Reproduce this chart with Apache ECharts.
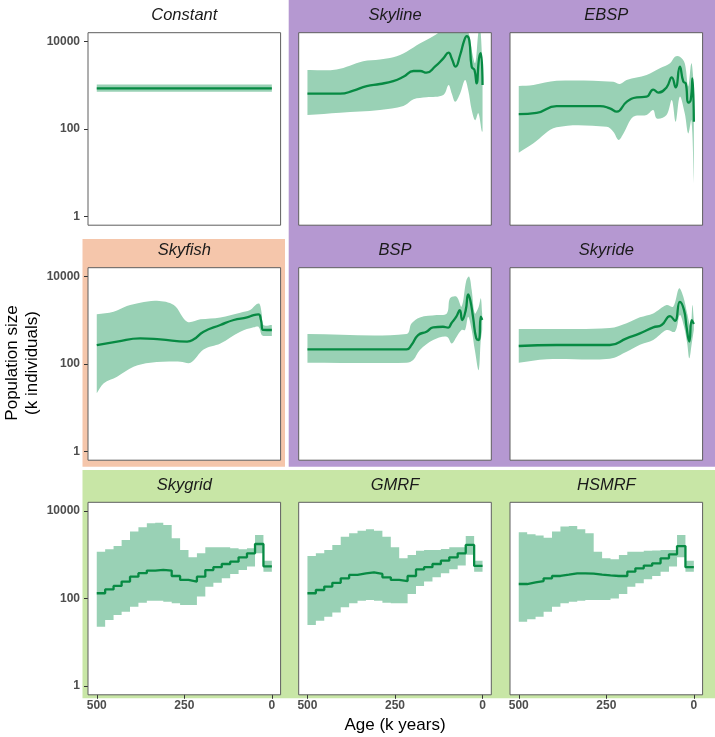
<!DOCTYPE html>
<html>
<head>
<meta charset="utf-8">
<script src="https://cdn.jsdelivr.net/npm/echarts@6.0.0/dist/echarts.min.js"></script>
<style>
html, body { margin: 0; padding: 0; background: #fff; }
#chart { width: 715px; height: 737px; }
</style>
</head>
<body>
<div id="chart"></div>
<script>
// population size (k individuals) against age (k years)
var constMed = [[500, 850], [0, 850]];
var constUp = [[500, 1040], [0, 1040]];
var constLow = [[500, 710], [0, 710]];

var skylineMed = [[500, 640], [407, 640], [369, 750], [331, 955], [293, 1065], [255, 1245], [226, 1560], [197, 2110], [178, 2110], [160, 1930], [136, 2650], [112, 4100], [97, 5530], [88, 4100], [77, 2650], [64, 4900], [52, 10700], [45, 13300], [38, 10700], [31, 2650], [23, 2220], [17, 1100], [10, 4100], [5, 5370], [0, 1010]];
var skylineUp = [[500, 2220], [417, 2290], [341, 3550], [293, 3890], [255, 4330], [217, 5840], [178, 9040], [140, 13300], [126, 15850], [112, 20000], [64, 22000], [45, 18000], [38, 14000], [31, 6300], [21, 3200], [12, 16000], [7, 22000], [0, 2650]];
var skylineLow = [[500, 208], [407, 236], [293, 271], [226, 334], [197, 475], [160, 527], [112, 596], [97, 1010], [88, 650], [78, 420], [64, 650], [50, 1310], [41, 776], [31, 271], [21, 158], [12, 229], [2, 87], [0, 87]];

var ebspMed = [[500, 219], [449, 234], [392, 334], [268, 334], [240, 295], [220, 248], [192, 417], [163, 525], [135, 546], [116, 795], [101, 676], [78, 891], [63, 1510], [52, 891], [40, 2650], [30, 1200], [23, 1100], [16, 398], [9, 457], [4, 1430], [0, 146]];
var ebspUp = [[500, 955], [458, 1009], [392, 1259], [230, 1200], [211, 1064], [192, 1310], [135, 1700], [97, 2427], [68, 3160], [54, 4470], [40, 4470], [26, 3160], [16, 933], [7, 3160], [0, 1100]];
var ebspLow = [[500, 28.6], [458, 47], [392, 109], [249, 112], [230, 86], [215, 56], [201, 79], [173, 190], [135, 209], [116, 271], [106, 174], [78, 209], [63, 457], [52, 146], [40, 546], [26, 229], [16, 79], [7, 158], [0, 5.7]];

var skyfishMed = [[500, 270], [442, 324], [376, 385], [319, 365], [242, 324], [223, 365], [195, 546], [147, 776], [109, 1010], [71, 1160], [52, 1310], [38, 1360], [31, 1010], [25, 600], [14, 597], [0, 597]];
var skyfishUp = [[500, 1360], [452, 1560], [414, 2110], [376, 2510], [328, 2790], [280, 2220], [242, 925], [204, 1047], [147, 1160], [90, 1480], [62, 1700], [43, 2340], [35, 2340], [29, 1430], [24, 776], [0, 776]];
var skyfishLow = [[500, 21.3], [480, 36], [442, 51], [395, 86], [347, 107], [261, 113], [232, 107], [195, 215], [147, 295], [90, 546], [52, 686], [38, 708], [29, 457], [24, 437], [0, 437]];

var bspMed = [[500, 215], [217, 215], [203, 271], [184, 457], [160, 546], [141, 686], [113, 708], [98, 676], [89, 851], [75, 1200], [65, 1700], [58, 1010], [48, 1700], [41, 3890], [35, 2850], [27, 1160], [18, 385], [11, 352], [5, 1200], [1, 1010]];
var bspUp = [[500, 485], [217, 485], [203, 841], [179, 1160], [131, 1310], [102, 1430], [93, 3160], [74, 3440], [60, 2040], [46, 8260], [38, 9840], [31, 4900], [22, 1430], [11, 2040], [5, 3160], [1, 1430]];
var bspLow = [[500, 107], [217, 107], [198, 123], [179, 208], [141, 352], [102, 420], [88, 295], [74, 420], [60, 596], [50, 596], [41, 1200], [31, 596], [22, 208], [11, 72], [5, 352], [1, 596]];

var skyrideMed = [[500, 257], [392, 271], [240, 271], [192, 385], [154, 501], [116, 686], [92, 776], [68, 1245], [54, 966], [40, 2630], [28, 1700], [21, 708], [13, 324], [6, 1009], [0, 818]];
var skyrideUp = [[500, 630], [420, 630], [240, 661], [192, 851], [154, 1161], [116, 1430], [78, 2223], [59, 2040], [42, 5350], [30, 3440], [19, 1430], [9, 708], [4, 2223], [0, 1000]];
var skyrideLow = [[500, 107], [420, 128], [240, 132], [192, 190], [154, 275], [116, 352], [78, 596], [54, 546], [40, 1312], [28, 708], [19, 295], [13, 135], [6, 295], [0, 596]];

// piecewise-constant estimates: interval boundaries and one value per interval
var gridAges = [500, 476, 452, 429, 405, 381, 357, 333, 310, 286, 262, 238, 214, 190, 167, 143, 119, 95, 71, 48, 24, 0];

var skygridMed = [132, 162, 194, 244, 316, 380, 437, 450, 437, 328, 266, 244, 316, 447, 520, 617, 698, 877, 1081, 1766, 546];
var skygridUp = [1175, 1334, 1585, 2188, 3388, 4266, 5250, 5430, 4786, 2399, 1288, 877, 1081, 1479, 1479, 1479, 1413, 1334, 1413, 2840, 735];
var skygridLow = [22.8, 32.4, 42, 50, 65, 80.5, 89, 89, 85, 78, 71.6, 71.6, 111, 186, 231, 290, 363, 450, 537, 1081, 412];

var gmrfMed = [132, 157, 188, 229, 290, 347, 378, 398, 365, 306, 266, 251, 328, 464, 520, 617, 735, 877, 1081, 1679, 556];
var gmrfUp = [940, 1081, 1288, 1679, 2600, 3090, 3550, 3828, 3550, 2600, 1479, 832, 991, 1245, 1288, 1288, 1359, 1479, 1479, 2692, 735];
var gmrfLow = [24.9, 31, 38.6, 48, 63, 78, 89, 93, 89, 80.5, 78, 78, 127, 194, 244, 306, 378, 468, 568, 1000, 412];

var hsmrfMed = [215, 235, 251, 290, 328, 352, 378, 378, 372, 352, 339, 328, 328, 412, 490, 568, 640, 832, 1023, 1585, 520];
var hsmrfUp = [3265, 2950, 2754, 2466, 3388, 4406, 4571, 3828, 3090, 1175, 832, 789, 991, 1175, 1175, 1230, 1259, 1288, 1288, 2840, 735];
var hsmrfLow = [29.5, 33.5, 38.6, 50, 65, 78, 85, 89, 93, 93, 93, 100, 127, 186, 224, 275, 328, 412, 537, 877, 412];

var ageTicks = { min: 0, max: 500, interval: 250 };
var sizeTicks = { min: 1, max: 10000 };

function stepPairs(vals) {
    var out = vals.map(function (v, i) { return [gridAges[i], v]; });
    out.push([gridAges[gridAges.length - 1], vals[vals.length - 1]]);
    return out;
}

var panels = [
    { title: 'Constant', row: 0, col: 0, med: constMed, up: constUp, low: constLow },
    { title: 'Skyline', row: 0, col: 1, med: skylineMed, up: skylineUp, low: skylineLow },
    { title: 'EBSP', row: 0, col: 2, med: ebspMed, up: ebspUp, low: ebspLow },
    { title: 'Skyfish', row: 1, col: 0, med: skyfishMed, up: skyfishUp, low: skyfishLow },
    { title: 'BSP', row: 1, col: 1, med: bspMed, up: bspUp, low: bspLow },
    { title: 'Skyride', row: 1, col: 2, med: skyrideMed, up: skyrideUp, low: skyrideLow },
    { title: 'Skygrid', row: 2, col: 0, step: true, med: stepPairs(skygridMed), up: stepPairs(skygridUp), low: stepPairs(skygridLow) },
    { title: 'GMRF', row: 2, col: 1, step: true, med: stepPairs(gmrfMed), up: stepPairs(gmrfUp), low: stepPairs(gmrfLow) },
    { title: 'HSMRF', row: 2, col: 2, step: true, med: stepPairs(hsmrfMed), up: stepPairs(hsmrfUp), low: stepPairs(hsmrfLow) }
];

var FONT = '"Liberation Sans", Arial, Helvetica, sans-serif';
var colLeft = [88, 298.7, 510], rowTop = [32.7, 267.7, 502.3];
var PW = 192.6, PH = 192.5;
var padX = PW * 25 / 550, padY = PH * 0.2 / 4.4;   // ggplot style 5% expansion

// credible band as one polygon: upper edge forward, lower edge back
function bandSeries(k, up, low, step) {
    return {
        type: 'custom', xAxisIndex: 2 * k, yAxisIndex: 2 * k, silent: true, animation: false,
        data: [[250, 100]],
        renderItem: function (params, api) {
            function edge(pts) {
                var out = [];
                if (step) {
                    for (var i = 0; i < pts.length - 1; i++) {
                        out.push(api.coord([pts[i][0], pts[i][1]]));
                        out.push(api.coord([pts[i + 1][0], pts[i][1]]));
                    }
                } else {
                    out = pts.map(function (p) { return api.coord(p); });
                    // doubled end points keep the band ends straight when smoothed
                    out.unshift(out[0].slice());
                    out.push(out[out.length - 1].slice());
                }
                return out;
            }
            var pts = edge(up).concat(edge(low).reverse());
            var cs = params.coordSys;
            return {
                type: 'polygon',
                shape: { points: pts, smooth: step ? 0 : 0.35 },
                style: { fill: '#99D1B5', stroke: null },
                clipPath: { type: 'rect', shape: { x: cs.x, y: cs.y, width: cs.width, height: cs.height } }
            };
        }
    };
}

var grids = [], xAxes = [], yAxes = [], series = [];
var graphics = [
    // shaded groups behind the panels
    { type: 'rect', z: -10, shape: { x: 288.7, y: 0, width: 426.3, height: 466.7 }, style: { fill: '#B598D1' } },
    { type: 'rect', z: -10, shape: { x: 82.5, y: 239, width: 202.5, height: 227.7 }, style: { fill: '#F5C6AB' } },
    { type: 'rect', z: -10, shape: { x: 82.5, y: 470, width: 632.5, height: 228.3 }, style: { fill: '#C8E6A6' } }
];

panels.forEach(function (p, k) {
    var L = colLeft[p.col], T = rowTop[p.row];
    var showX = p.row === 2, showY = p.col === 0;

    // data grid = panel, axes hidden, range expanded
    grids.push({ left: L, top: T, width: PW, height: PH, show: true, backgroundColor: '#fff', borderWidth: 0 });
    // tick grid = unexpanded data range, axes pushed out to the panel edge
    grids.push({ left: L + padX, top: T + padY, width: PW - 2 * padX, height: PH - 2 * padY });

    xAxes.push({ gridIndex: 2 * k, type: 'value', min: -25, max: 525, inverse: true, show: false });
    yAxes.push({ gridIndex: 2 * k, type: 'log', min: Math.pow(10, -0.2), max: Math.pow(10, 4.2), show: false });

    xAxes.push({
        gridIndex: 2 * k + 1, type: 'value', min: ageTicks.min, max: ageTicks.max, interval: ageTicks.interval,
        inverse: true, position: 'bottom', offset: padY,
        axisLine: { show: false, onZero: false }, splitLine: { show: false },
        axisTick: { show: showX, length: 4, lineStyle: { color: '#333', width: 1 } },
        axisLabel: { show: showX, margin: 5, color: '#4D4D4D', fontWeight: 'bold', fontSize: 12, fontFamily: FONT }
    });
    yAxes.push({
        gridIndex: 2 * k + 1, type: 'log', logBase: 100, min: sizeTicks.min, max: sizeTicks.max,
        position: 'left', offset: padX,
        axisLine: { show: false, onZero: false }, splitLine: { show: false }, minorSplitLine: { show: false },
        axisTick: { show: showY, length: 4, lineStyle: { color: '#333', width: 1 } },
        axisLabel: {
            show: showY, margin: 8, color: '#4D4D4D', fontWeight: 'bold', fontSize: 12, fontFamily: FONT,
            formatter: function (v) { return String(Math.round(v)); }
        }
    });

    series.push(bandSeries(k, p.up, p.low, p.step));
    series.push({
        type: 'line', xAxisIndex: 2 * k, yAxisIndex: 2 * k, data: p.med,
        smooth: !p.step, step: p.step ? 'end' : false, symbol: 'none', silent: true, animation: false,
        lineStyle: { color: '#078A43', width: 2.3 }
    });

    // panel border on top of the fills
    graphics.push({ type: 'rect', z: 50, shape: { x: L, y: T, width: PW, height: PH },
        style: { fill: 'none', stroke: '#5E5E5E', lineWidth: 1 } });
    // strip title
    graphics.push({ type: 'text', z: 50, x: L + PW / 2, y: T - 17,
        style: { text: p.title, textAlign: 'center', textVerticalAlign: 'middle', verticalAlign: 'middle',
            font: 'italic 16.5px ' + FONT, fill: '#1A1A1A' } });
});

graphics.push({ type: 'text', z: 50, x: 395, y: 725,
    style: { text: 'Age (k years)', textAlign: 'center', textVerticalAlign: 'middle', verticalAlign: 'middle',
        font: '17px ' + FONT, fill: '#000' } });
graphics.push({ type: 'text', z: 50, x: 22, y: 363, rotation: Math.PI / 2,
    style: { text: 'Population size\n(k individuals)', textAlign: 'center', textVerticalAlign: 'middle', verticalAlign: 'middle',
        font: '17px ' + FONT, lineHeight: 20, fill: '#000' } });

var chart = echarts.init(document.getElementById('chart'));
var option = {
    animation: false,
    backgroundColor: '#fff',
    grid: grids,
    xAxis: xAxes,
    yAxis: yAxes,
    series: series,
    graphic: graphics
};
chart.setOption(option, true);
</script>
</body>
</html>
